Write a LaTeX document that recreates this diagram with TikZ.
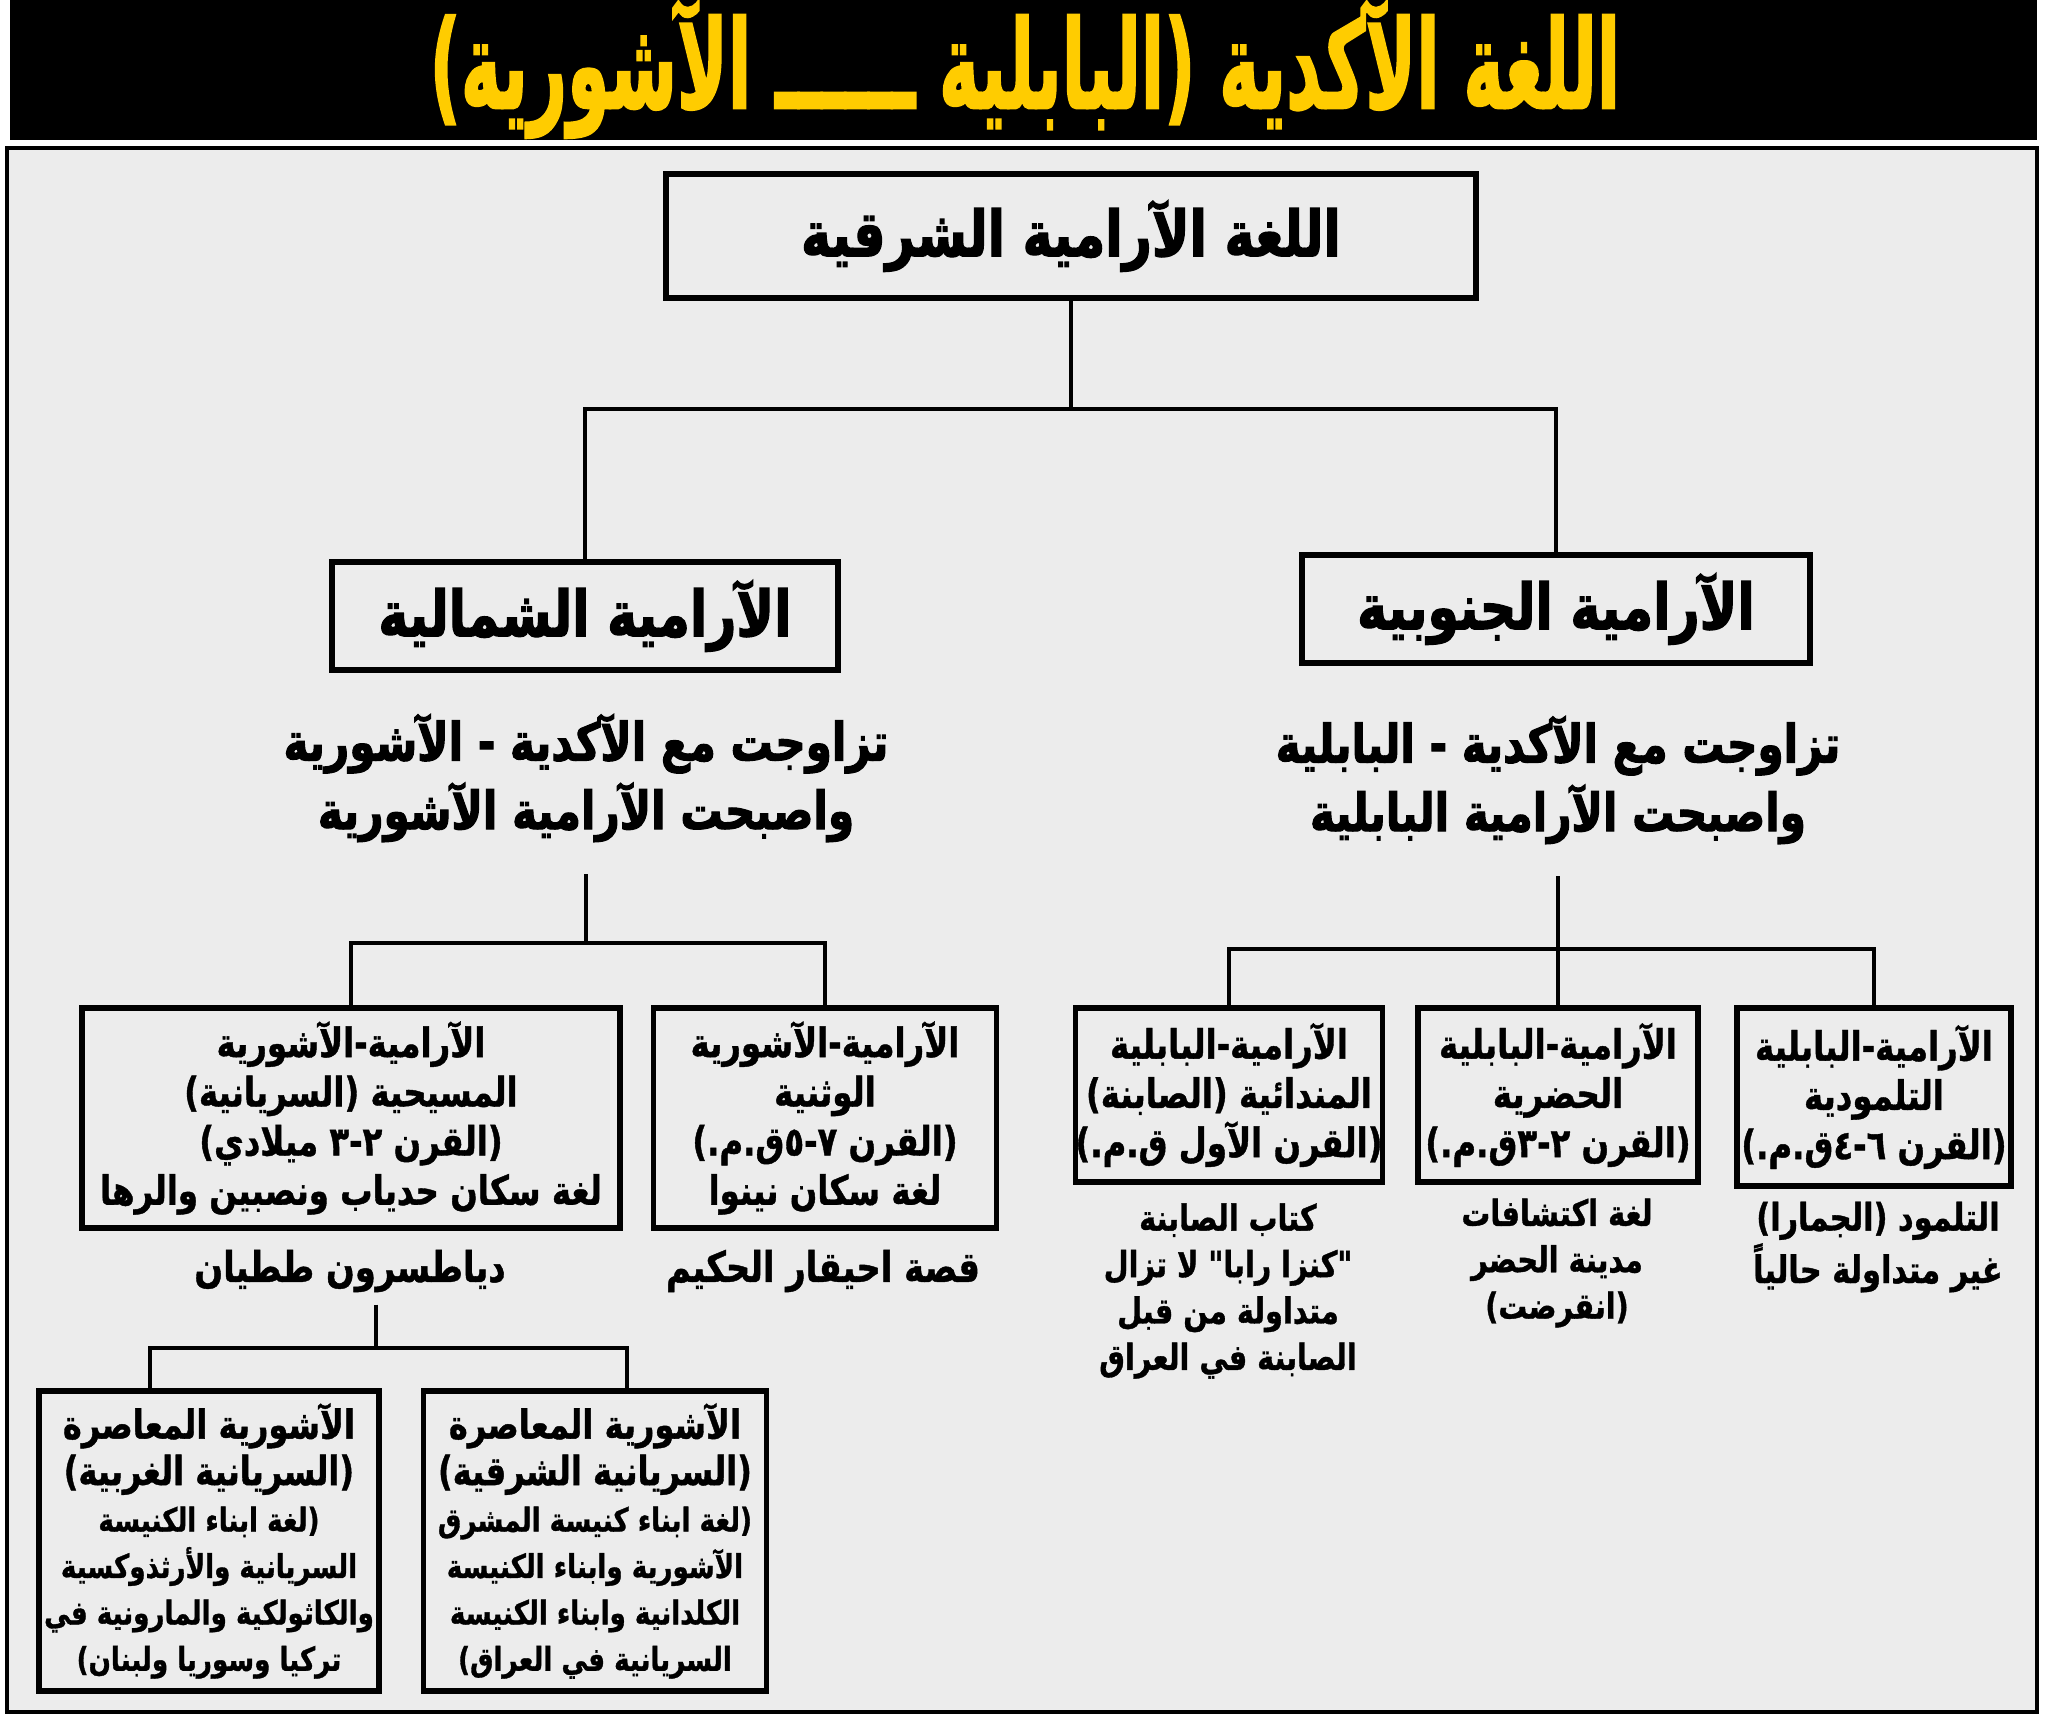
\documentclass[tikz,border=0pt]{standalone}
\usepackage{fontspec}
\usepackage{graphicx}
\usepackage{tikz}
\usetikzlibrary{calc,positioning}
\TeXXeTstate=1
\newfontfamily\arabicfont[Script=Arabic,FakeStretch=0.8,FakeBold=1]{DejaVu Sans}
\newfontfamily\arabicheavy[Script=Arabic,FakeStretch=0.8,FakeBold=2]{DejaVu Sans}
\newfontfamily\titlefont[Script=Arabic,FakeBold=2]{DejaVu Sans}
\newcommand{\artxt}[1]{\beginR #1\endR}
\newcommand{\arbig}[1]{{\fontsize{11.4}{13.2}\selectfont\artxt{#1}}}
\definecolor{titleyellow}{RGB}{255,204,0}
\definecolor{paper}{RGB}{236,236,236}
\tikzset{
  box/.style={draw=black,line width=1.6pt,fill=paper,inner sep=0pt,align=center},
  link/.style={line width=1.1pt},
  headtxt/.style={font=\arabicheavy\bfseries\fontsize{18}{22}\selectfont},
  twotxt/.style={align=center,font=\arabicheavy\bfseries\fontsize{15}{19.5}\selectfont},
  boxtxt/.style={font=\arabicfont\bfseries\fontsize{11.5}{14}\selectfont},
  notetxt/.style={align=center,font=\arabicfont\bfseries\fontsize{12}{13.2}\selectfont},
  smallnote/.style={align=center,font=\arabicfont\bfseries\fontsize{10.2}{13.2}\selectfont},
  smalltxt/.style={font=\arabicfont\bfseries\fontsize{9.3}{13.2}\selectfont}
}
\begin{document}
\begin{tikzpicture}[x=0.01cm,y=-0.01cm]
\useasboundingbox (0,0) rectangle (2048,1732);
\fill[white] (0,0) rectangle (2048,1732);
\fill[black] (10,0) rectangle (2037,140);
\node[inner sep=0pt,text=titleyellow,font=\titlefont\bfseries] (title) at (1025,69)
  {\resizebox*{11.9cm}{1.38cm}{\artxt{اللغة الآكدية (البابلية ــــــ الآشورية)}}};
\draw[fill=paper,line width=1.3pt] (7,148) rectangle (2037,1712);

% first two levels
\node[box,headtxt,minimum width=8.1cm,minimum height=1.24cm] (root) at (1071,236) {\artxt{اللغة الآرامية الشرقية}};
\node[box,headtxt,minimum width=5.06cm,minimum height=1.08cm] (north) at (585,616) {\artxt{الآرامية الشمالية}};
\node[box,headtxt,minimum width=5.08cm,minimum height=1.08cm] (south) at (1556,609) {\artxt{الآرامية الجنوبية}};
\node[twotxt] (northtxt) at (586,778) {\artxt{تزاوجت مع الآكدية - الآشورية}\\\artxt{واصبحت الآرامية الآشورية}};
\node[twotxt] (southtxt) at (1558,780) {\artxt{تزاوجت مع الآكدية - البابلية}\\\artxt{واصبحت الآرامية البابلية}};
\coordinate (jtop) at (1071,409);
\draw[link] (root.south) -- (jtop);
\foreach \n in {north,south} \draw[link] (jtop) -| (\n.north);

% northern branch
\node[box,boxtxt,minimum width=5.38cm,minimum height=2.2cm] (christ) at (351,1118)
  {\artxt{الآرامية-الآشورية}\\\artxt{المسيحية (السريانية)}\\\artxt{(القرن ٢-٣ ميلادي)}\\\artxt{لغة سكان حدياب ونصبين والرها}};
\node[box,boxtxt,minimum width=3.43cm,minimum height=2.2cm] (pagan) at (825,1118)
  {\artxt{الآرامية-الآشورية}\\\artxt{الوثنية}\\\artxt{(القرن ٧-٥ق.م.)}\\\artxt{لغة سكان نينوا}};
\node[notetxt] (diat) at (350,1271) {\artxt{دياطسرون ططيان}};
\node[notetxt] (ahiqar) at (823,1271) {\artxt{قصة احيقار الحكيم}};
\coordinate (jnorth) at (586,943);
\draw[link] ([yshift=-2mm]northtxt.south) -- (jnorth);
\foreach \n in {christ,pagan} \draw[link] (jnorth) -| (\n.north);

% southern branch
\node[box,boxtxt,minimum width=3.05cm,minimum height=1.74cm] (mandaic) at (1229,1095)
  {\artxt{الآرامية-البابلية}\\\artxt{المندائية (الصابنة)}\\\artxt{(القرن الآول ق.م.)}};
\node[box,boxtxt,minimum width=2.8cm,minimum height=1.74cm] (hatra) at (1558,1095)
  {\artxt{الآرامية-البابلية}\\\artxt{الحضرية}\\\artxt{(القرن ٢-٣ق.م.)}};
\node[box,boxtxt,minimum width=2.74cm,minimum height=1.78cm] (talmud) at (1874,1097)
  {\artxt{الآرامية-البابلية}\\\artxt{التلمودية}\\\artxt{(القرن ٦-٤ق.م.)}};
\node[smallnote] (mandaicnote) at (1228,1291)
  {\artxt{كتاب الصابنة}\\\artxt{"كنزا رابا" لا تزال}\\\artxt{متداولة من قبل}\\\artxt{الصابنة في العراق}};
\node[smallnote] (hatranote) at (1557,1263) {\artxt{لغة اكتشافات}\\\artxt{مدينة الحضر}\\\artxt{(انقرضت)}};
\node[smallnote,font=\arabicfont\bfseries\fontsize{10.8}{11.4}\selectfont] (talmudnote) at (1878,1247)
  {\artxt{التلمود (الجمارا)}\\\artxt{غير متداولة حالياً}};
\coordinate (jsouth) at (1558,949);
\draw[link] ([yshift=-2mm]southtxt.south) -- (jsouth);
\foreach \n in {mandaic,hatra,talmud} \draw[link] (jsouth) -| (\n.north);

% modern Assyrian
\node[box,smalltxt,minimum width=3.4cm,minimum height=3cm] (west) at (209,1541)
  {\arbig{الآشورية المعاصرة}\\\arbig{(السريانية الغربية)}\\\artxt{(لغة ابناء الكنيسة}\\\artxt{السريانية والأرثذوكسية}\\\artxt{والكاثولكية والمارونية في}\\\artxt{تركيا وسوريا ولبنان)}};
\node[box,smalltxt,minimum width=3.43cm,minimum height=3cm] (east) at (595,1541)
  {\arbig{الآشورية المعاصرة}\\\arbig{(السريانية الشرقية)}\\\artxt{(لغة ابناء كنيسة المشرق}\\\artxt{الآشورية وابناء الكنيسة}\\\artxt{الكلدانية وابناء الكنيسة}\\\artxt{السريانية في العراق)}};
\coordinate (jdiat) at (376,1348);
\draw[link] (jdiat|-diat.south) -- (jdiat);
\draw[link] (jdiat) -| ([xshift=-5.9mm]west.north);
\draw[link] (jdiat) -| ([xshift=3.2mm]east.north);
\end{tikzpicture}
\end{document}
